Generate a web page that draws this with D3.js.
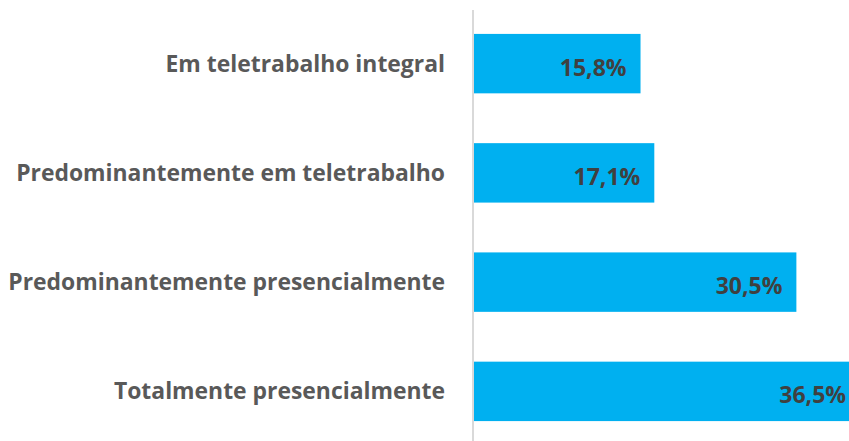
<!DOCTYPE html>
<html>
<head>
<meta charset="utf-8">
<script src="https://cdn.jsdelivr.net/npm/d3@7"></script>
<style>
  html, body { margin: 0; padding: 0; background: #fff; overflow: hidden; }
  #chart { width: 849px; height: 441px; }
</style>
</head>
<body>
<div id="chart"></div>
<script>
// dados
const categories = [
    "Em teletrabalho integral",
    "Predominantemente em teletrabalho",
    "Predominantemente presencialmente",
    "Totalmente presencialmente"
];
const values = [15.8, 17.1, 30.5, 36.5];

const width = 849, height = 441;
const axisX = 473;

const svg = d3.select("#chart").append("svg")
    .attr("width", width)
    .attr("height", height);

const data = categories.map((c, i) => ({ category: c, value: values[i] }));

const x = d3.scaleLinear()
    .domain([0, 36.5])
    .range([axisX, 860]);

const y = d3.scaleBand()
    .domain(categories)
    .range([9, 446])
    .paddingInner(0.456)
    .paddingOuter(0.228);

// barras
svg.selectAll(".bar")
    .data(data)
    .join("rect")
    .attr("class", "bar")
    .attr("x", x(0))
    .attr("y", d => y(d.category))
    .attr("width", d => x(d.value) - x(0))
    .attr("height", y.bandwidth())
    .attr("fill", "#00b0f0");

// linha do eixo vertical
svg.append("line")
    .attr("x1", axisX).attr("x2", axisX)
    .attr("y1", 10).attr("y2", height)
    .attr("stroke", "#d9d9d9")
    .attr("stroke-width", 2);

// rótulos das categorias
svg.selectAll(".cat")
    .data(data)
    .join("text")
    .attr("class", "cat")
    .attr("x", 445)
    .attr("y", d => y(d.category) + y.bandwidth() / 2)
    .attr("dy", "0.35em")
    .attr("text-anchor", "end")
    .attr("font-family", "'Open Sans', sans-serif")
    .attr("font-weight", "bold")
    .attr("font-size", 22.9)
    .attr("fill", "#595959")
    .text(d => d.category);

// rótulos dos valores
svg.selectAll(".val")
    .data(data)
    .join("text")
    .attr("class", "val")
    .attr("x", d => x(d.value) - 14)
    .attr("y", d => y(d.category) + y.bandwidth() / 2 + 4)
    .attr("dy", "0.35em")
    .attr("text-anchor", "end")
    .attr("font-family", "'Open Sans', sans-serif")
    .attr("font-weight", "bold")
    .attr("font-size", 23)
    .attr("fill", "#404040")
    .text(d => d.value.toFixed(1).replace(".", ",") + "%");
</script>
</body>
</html>
